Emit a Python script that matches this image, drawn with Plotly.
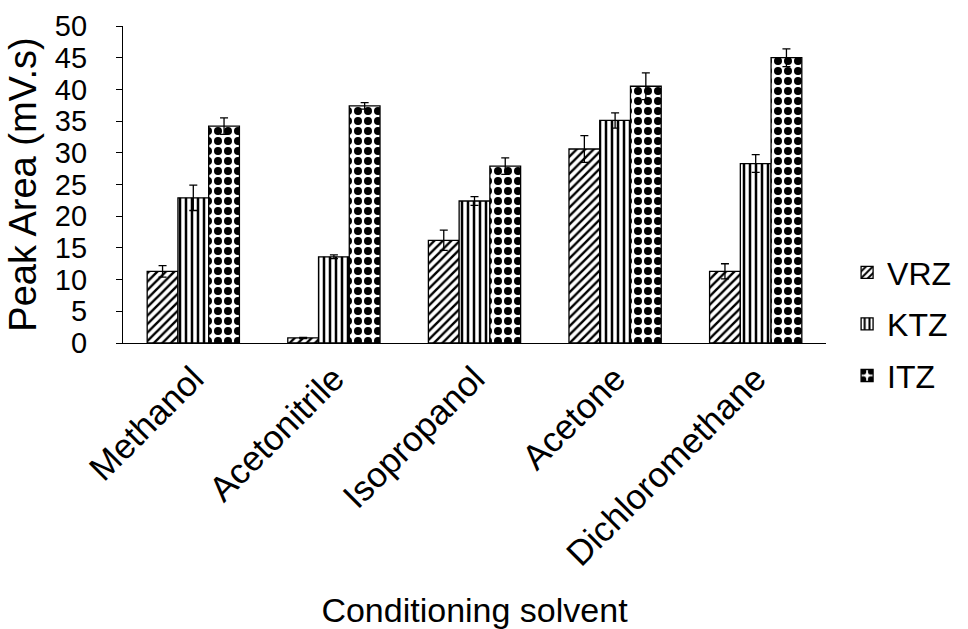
import plotly.graph_objects as go

categories = ["Methanol", "Acetonitrile", "Isopropanol", "Acetone", "Dichloromethane"]
series_names = ["VRZ", "KTZ", "ITZ"]
vrz = [11.3, 0.8, 16.2, 30.6, 11.3]
vrz_err = [0.9, 0.1, 1.6, 2.1, 1.2]
ktz = [22.9, 13.6, 22.4, 35.1, 28.3]
ktz_err = [2.0, 0.3, 0.7, 1.2, 1.4]
itz = [34.2, 37.4, 27.9, 40.5, 45.0]
itz_err = [1.3, 0.5, 1.3, 2.1, 1.4]
y_ticks = [0, 5, 10, 15, 20, 25, 30, 35, 40, 45, 50]

FONT = "Liberation Sans, Arial, sans-serif"
patterns = [
    dict(shape="/", fgcolor="#000000", bgcolor="#ffffff", fgopacity=1, size=6, solidity=0.4),
    dict(shape="|", fgcolor="#000000", bgcolor="#ffffff", fgopacity=1, size=6, solidity=0.42),
    dict(shape=".", fgcolor="#000000", bgcolor="#ffffff", fgopacity=1, size=10, solidity=0.5),
]

fig = go.Figure()
for name, vals, errs, pat in zip(series_names, [vrz, ktz, itz], [vrz_err, ktz_err, itz_err], patterns):
    fig.add_trace(go.Bar(
        name=name, x=categories, y=vals,
        marker=dict(color="white", line=dict(color="black", width=1.3), pattern=pat),
        error_y=dict(type="data", array=errs, visible=True, color="black", thickness=1.3, width=4),
        legendgroup=name,
    ))

fig.update_layout(
    width=968, height=629,
    margin=dict(l=123, r=136, t=26, b=286),
    paper_bgcolor="white", plot_bgcolor="white",
    barmode="group", bargap=0.344, bargroupgap=0,
    font=dict(family=FONT, color="black"),
    showlegend=True,
    legend=dict(x=1.03, xanchor="left", y=0.06, yanchor="middle",
                font=dict(size=32, family=FONT), tracegroupgap=7,
                bgcolor="rgba(0,0,0,0)"),
    xaxis=dict(
        showline=True, linecolor="black", linewidth=1.3,
        tickangle=-45, tickfont=dict(size=35, family=FONT),
        ticks="", showgrid=False,
        title=dict(text="Conditioning solvent", font=dict(size=34, family=FONT), standoff=27),
        automargin=False,
    ),
    yaxis=dict(
        range=[0, 50], tickvals=y_ticks, ticktext=[str(v) for v in y_ticks],
        showline=True, linecolor="black", linewidth=1.3,
        ticks="outside", ticklen=6, tickcolor="black", tickwidth=1.2,
        tickfont=dict(size=29, family=FONT), ticklabelstandoff=23,
        showgrid=False, zeroline=False,
        title=dict(text="Peak Area (mV.s)", font=dict(size=38, family=FONT), standoff=6),
        automargin=False,
    ),
)

fig.write_html("out.html")
